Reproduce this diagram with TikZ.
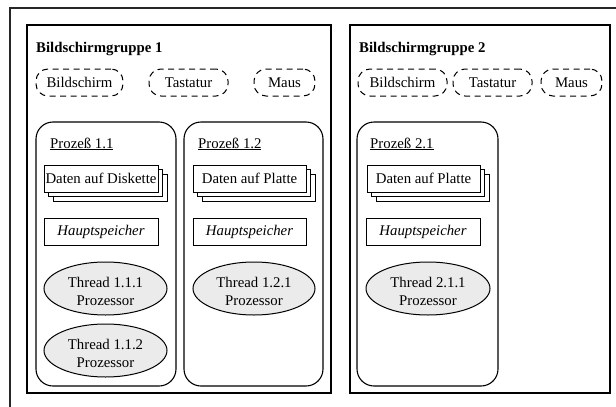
\documentclass[tikz,border=0pt]{standalone}
\usepackage{fontspec}
\setmainfont{Liberation Serif}
\usetikzlibrary{shapes.geometric}
\begin{document}
\begin{tikzpicture}[x=1pt,y=-1pt,
  every node/.style={font=\fontsize{14.8}{18}\selectfont, inner sep=0pt},
  grp/.style={draw, line width=1.3pt, rectangle},
  proc/.style={draw, line width=1.1pt, rounded corners=17pt},
  dev/.style={draw, line width=1pt, dash pattern=on 6pt off 4.5pt, rounded corners=12pt, minimum height=27pt},
  stackbox/.style={draw, line width=1pt, fill=white, minimum width=114pt, minimum height=27pt},
  mem/.style={draw, line width=1pt, minimum height=27pt, font=\fontsize{14.8}{18}\selectfont\itshape},
  thr/.style={draw, line width=1pt, ellipse, fill=black!8, minimum height=53pt},
  title/.style={anchor=base west, font=\fontsize{14.8}{18}\selectfont\bfseries},
  ptitle/.style={anchor=base west}
]
\useasboundingbox (0,0) rectangle (616,407);

% outer frame (only its upper and left sides are inside the page)
\coordinate (oa) at (10,407);
\coordinate (ob) at (10,8);
\coordinate (oc) at (616,8);
\draw[line width=1.4pt, black!85] (oa) -- (ob) -- (oc);

% groups
\node[grp, minimum width=304pt, minimum height=368pt] (g1) at (179,209) {};
\node[grp, minimum width=260pt, minimum height=368pt] (g2) at (480,209) {};
\node[title] (t1) at (36,52) {Bildschirmgruppe 1};
\node[title] (t2) at (359,52) {Bildschirmgruppe 2};

% devices
\node[dev, minimum width=87pt] (b1) at (79.5,82.5) {Bildschirm};
\node[dev, minimum width=79pt] (k1) at (188.5,82.5) {Tastatur};
\node[dev, minimum width=61pt] (m1) at (284.5,82.5) {Maus};
\node[dev, minimum width=89pt] (b2) at (402.5,82.5) {Bildschirm};
\node[dev, minimum width=79pt] (k2) at (492.5,82.5) {Tastatur};
\node[dev, minimum width=61pt] (m2) at (571.5,82.5) {Maus};

% processes
\node[proc, minimum width=140pt, minimum height=264pt] (p11) at (106,254) {};
\node[proc, minimum width=139pt, minimum height=264pt] (p12) at (253.5,254) {};
\node[proc, minimum width=141pt, minimum height=264pt] (p21) at (427.5,254) {};
\node[ptitle] (pt11) at (50,148) {\underline{Prozeß 1.1}};
\node[ptitle] (pt12) at (198,148) {\underline{Prozeß 1.2}};
\node[ptitle] (pt21) at (370,148) {\underline{Prozeß 2.1}};

% stacked data boxes
\node[stackbox] (d11c) at (110,187.5) {};
\node[stackbox] (d11b) at (105.5,183) {};
\node[stackbox] (d11) at (101,178.5) {Daten auf Diskette};
\node[stackbox, minimum width=113pt] (d12c) at (258.5,187.5) {};
\node[stackbox, minimum width=113pt] (d12b) at (254,183) {};
\node[stackbox, minimum width=113pt] (d12) at (249.5,178.5) {Daten auf Platte};
\node[stackbox, minimum width=113pt] (d21c) at (432.5,187.5) {};
\node[stackbox, minimum width=113pt] (d21b) at (428,183) {};
\node[stackbox, minimum width=113pt] (d21) at (423.5,178.5) {Daten auf Platte};

% main memory
\node[mem, minimum width=114pt] (h11) at (101,231.5) {Hauptspeicher};
\node[mem, minimum width=113pt] (h12) at (249.5,231.5) {Hauptspeicher};
\node[mem, minimum width=114pt] (h21) at (423,231.5) {Hauptspeicher};

% threads
\node[thr, minimum width=123pt] (th111) at (105.5,288.5) {};
\node[thr, minimum width=123pt] (th112) at (105.5,350.5) {};
\node[thr, minimum width=122pt] (th121) at (254,288.5) {};
\node[thr, minimum width=124pt] (th211) at (428,288.5) {};
\node[align=center] (l111) at ([yshift=-3pt]th111.center) {Thread 1.1.1\\Prozessor};
\node[align=center] (l112) at ([yshift=-3pt]th112.center) {Thread 1.1.2\\Prozessor};
\node[align=center] (l121) at ([yshift=-3pt]th121.center) {Thread 1.2.1\\Prozessor};
\node[align=center] (l211) at ([yshift=-3pt]th211.center) {Thread 2.1.1\\Prozessor};
\end{tikzpicture}
\end{document}
